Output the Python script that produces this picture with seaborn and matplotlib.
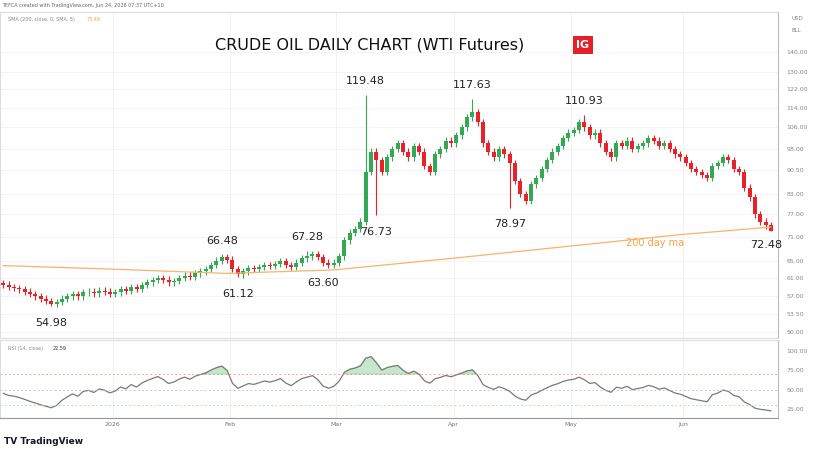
import matplotlib
matplotlib.use('Agg')
import matplotlib.pyplot as plt
from matplotlib.ticker import FixedLocator, NullLocator
import numpy as np
import pandas as pd
import seaborn as sns

# daily closes, Dec 3 2025 .. Jun 23 2026 (business days)
closes = [
    59.5, 59.0, 58.8, 58.5, 58.0, 57.5, 57.0, 56.5, 56.0, 55.5, 55.8, 56.5, 57.0, 57.5, 57.0,
    57.8, 58.0, 57.6, 58.2, 58.0, 57.5,
    57.8, 58.5, 58.2, 59.0, 58.6, 59.4, 60.0, 60.5, 61.0, 60.6, 60.0, 60.3, 61.0, 61.5, 61.2,
    62.0, 62.5, 63.0, 64.0, 65.0, 65.8, 65.2,
    63.0, 61.8, 62.5, 63.2, 63.0, 63.5, 64.0, 63.8, 64.2, 64.8, 64.0, 63.5, 64.5, 65.5, 66.0,
    66.5, 65.8, 64.5, 64.0, 64.5,
    66.0, 70.0, 72.0, 73.0, 75.0, 90.0, 97.0, 94.0, 90.0, 95.0, 98.0, 100.0, 97.0, 95.0, 99.0,
    97.0, 92.0, 90.0, 96.0, 98.0, 101.0, 100.0,
    103.0, 106.0, 110.0, 112.0, 108.0, 100.0, 97.0, 95.0, 98.0, 96.0, 93.0, 87.0, 83.0, 81.0,
    86.0, 88.0, 91.0, 94.0, 97.0, 99.0, 102.0, 104.0,
    105.0, 108.0, 106.0, 103.0, 104.0, 100.0, 97.0, 95.0, 100.0, 99.0, 101.0, 98.0, 99.0, 100.0,
    102.0, 101.0, 99.0, 100.0, 98.0, 96.0, 95.0,
    93.0, 91.0, 90.0, 89.0, 88.0, 92.0, 93.0, 95.0, 94.0, 91.0, 90.0, 85.0, 82.0, 77.0, 75.0,
    74.0, 72.48,
]
first_open = 59.8
# average gain / loss carried into the window (for the RSI start)
rsi_seed_gain, rsi_seed_loss = 0.30, 0.34

# labelled extremes: date -> (kind, price)
extremes = {
    '2025-12-16': ('low', 54.98),
    '2026-01-29': ('high', 66.48),
    '2026-02-03': ('low', 61.12),
    '2026-02-20': ('high', 67.28),
    '2026-02-25': ('low', 63.60),
    '2026-03-09': ('high', 119.48),
    '2026-03-11': ('low', 76.73),
    '2026-04-06': ('high', 117.63),
    '2026-04-15': ('low', 78.97),
    '2026-05-05': ('high', 110.93),
    '2026-06-23': ('low', 72.48),
}

# 200-day SMA read at a few dates
sma_dates = ['2025-12-03', '2025-12-31', '2026-01-30', '2026-02-27', '2026-03-31',
             '2026-04-30', '2026-05-29', '2026-06-23']
sma_vals = [63.8, 63.0, 62.0, 62.8, 65.5, 68.5, 71.5, 73.5]

price_ticks = [50, 53.5, 57, 61, 65, 71, 77, 83, 90.5, 98, 106, 114, 122, 130, 140]
rsi_ticks = [25, 50, 75, 100]
month_labels = {'2026-01-01': '2026', '2026-02-01': 'Feb', '2026-03-01': 'Mar',
                '2026-04-01': 'Apr', '2026-05-01': 'May', '2026-06-01': 'Jun'}

dates = pd.bdate_range('2025-12-03', periods=len(closes))
df = pd.DataFrame({'close': closes}, index=dates)
df['open'] = df['close'].shift(1).fillna(first_open)
df['high'] = df[['open', 'close']].max(axis=1) * 1.012
df['low'] = df[['open', 'close']].min(axis=1) * 0.988
for d, (kind, p) in extremes.items():
    df.loc[pd.Timestamp(d), kind] = p
df['x'] = np.arange(len(df))

# Wilder RSI(14), seeded with the averages from before the window
delta = (df['close'] - df['open']).to_numpy()
g, l = rsi_seed_gain, rsi_seed_loss
rsi = []
for dlt in delta:
    g = (g * 13 + max(dlt, 0)) / 14
    l = (l * 13 + max(-dlt, 0)) / 14
    rsi.append(100 - 100 / (1 + g / l))
df['rsi'] = rsi

sns.set_style('white')
plt.rcParams['font.family'] = ['DejaVu Sans']
GREEN, RED = '#34a853', '#e8222b'

fig = plt.figure(figsize=(8.32, 4.55), dpi=100)
W, H = 832, 455
ax = fig.add_axes([0, 1 - 338 / H, 778 / W, (338 - 12) / H])
rax = fig.add_axes([0, 1 - 418 / H, 778 / W, (418 - 340) / H], sharex=ax)

for _, r in df.iterrows():
    c = GREEN if r['close'] >= r['open'] else RED
    ax.vlines(r['x'], r['low'], r['high'], color=c, lw=0.8)
    lo, hi = sorted([r['open'], r['close']])
    ax.bar(r['x'], max(hi - lo, 0.15), bottom=lo, width=0.75, color=c, lw=0)

sma_x = [df.index.get_indexer([pd.Timestamp(d)], method='nearest')[0] for d in sma_dates]
sns.lineplot(x=sma_x, y=sma_vals, ax=ax, color='#f7b36b', lw=0.9)

ax.set_yscale('log')
ax.set_ylim(48.9, 162)
ax.set_xlim(-0.6, len(df) + 0.3)
ax.yaxis.set_major_locator(FixedLocator(price_ticks))
ax.yaxis.set_minor_locator(NullLocator())
ax.set_yticklabels([f'{t:.2f}' for t in price_ticks])
ax.yaxis.tick_right()
ax.tick_params(axis='y', labelsize=4.5, colors='#888888', length=0, pad=6)
ax.tick_params(axis='x', labelbottom=False, length=0)
month_x = [df.index.get_indexer([pd.Timestamp(d)], method='bfill')[0] - 0.5 for d in month_labels]
for mx in month_x:
    ax.axvline(mx, color='#f0f0f0', lw=0.6, zorder=0)
    rax.axvline(mx, color='#f0f0f0', lw=0.6, zorder=0)
for t in price_ticks:
    ax.axhline(t, color='#f3f3f3', lw=0.6, zorder=0)
for s in ax.spines.values():
    s.set_color('#dddddd')
ax.spines['right'].set_color('#bbbbbb')

for d, (kind, p) in extremes.items():
    xi = df.index.get_loc(pd.Timestamp(d))
    off = 10 if kind == 'high' else -12
    if d == '2026-06-23':
        off, xi = -10, xi - 1
    ax.annotate(f'{p:.2f}', (xi, p), xytext=(0, off), textcoords='offset points',
                ha='center', va='center', fontsize=8, color='#222222')
ax.text(0.805, 1 - (243 - 12) / (338 - 12), '200 day ma', transform=ax.transAxes,
        fontsize=7, color='#f5a04a', ha='left', va='center')

ax.text(370 / 778, 1 - (45 - 12) / 326, 'CRUDE OIL DAILY CHART (WTI Futures)',
        transform=ax.transAxes, ha='center', va='center', fontsize=11.5, color='#111111')
ax.text(583 / 778, 1 - (45 - 12) / 326, 'IG', transform=ax.transAxes, ha='center',
        va='center', fontsize=8, fontweight='bold', color='white',
        bbox=dict(boxstyle='square,pad=0.35', fc='#e3202b', ec='none'))
ax.text(0.01, 0.985, 'SMA (200, close, 0, SMA, 5)', transform=ax.transAxes,
        fontsize=3.5, color='#888888', va='top')
ax.text(0.112, 0.985, '73.49', transform=ax.transAxes, fontsize=3.5, color='#f5a04a', va='top')
fig.text(0.003, 1 - 5 / H, 'TEFCA created with TradingView.com, Jun 24, 2026 07:37 UTC+10',
         fontsize=3.5, color='#666666', va='center')
fig.text(792 / W, 1 - 18 / H, 'USD', fontsize=4, color='#888888', va='center')
fig.text(792 / W, 1 - 31 / H, 'BLL', fontsize=4, color='#888888', va='center')

# RSI pane
rax.plot(df['x'], df['rsi'], color='#7a7a7a', lw=0.9)
rax.fill_between(df['x'], 70, df['rsi'], where=df['rsi'] > 70, color='#8fd19e', alpha=0.5,
                 interpolate=True)
rax.axhline(70, color='#f28b8b', lw=0.6, ls=(0, (2, 3)))
rax.axhline(50, color='#bbbbbb', lw=0.6, ls=(0, (2, 3)))
rax.axhline(30, color='#a6dba6', lw=0.6, ls=(0, (2, 3)))
rax.set_ylim(13.4, 114)
rax.yaxis.set_major_locator(FixedLocator(rsi_ticks))
rax.set_yticklabels([f'{t:.2f}' for t in rsi_ticks])
rax.yaxis.tick_right()
rax.tick_params(axis='y', labelsize=4.5, colors='#888888', length=0, pad=6)
rax.set_xticks(month_x)
rax.set_xticklabels(list(month_labels.values()))
rax.tick_params(axis='x', labelsize=4.5, colors='#777777', length=0, pad=3)
for s in rax.spines.values():
    s.set_color('#dddddd')
rax.spines['right'].set_color('#bbbbbb')
rax.spines['bottom'].set_color('#999999')
rax.text(0.01, 0.92, 'RSI (14, close)', transform=rax.transAxes, fontsize=3.5,
         color='#888888', va='top')
rax.text(0.068, 0.92, f"{df['rsi'].iloc[-1]:.2f}", transform=rax.transAxes, fontsize=3.5,
         color='#333333', va='top')

fig.text(0.005, 1 - 442 / H, 'TV TradingView', fontsize=6.5, fontweight='bold',
         color='#131722', va='center')

fig.savefig('out.png', dpi=100)
